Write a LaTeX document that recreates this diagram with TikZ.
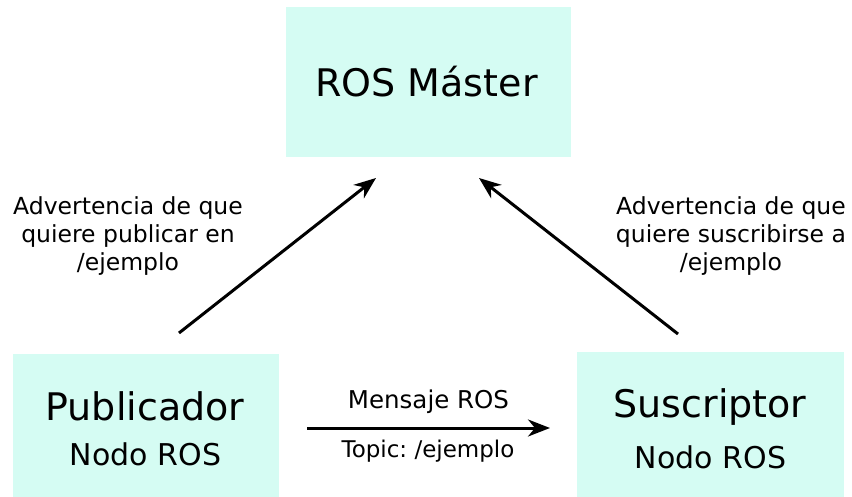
\documentclass[tikz,border=0pt]{standalone}
\usepackage{fontspec}
\setmainfont{DejaVu Sans}
\usetikzlibrary{arrows.meta}
\definecolor{rosbox}{RGB}{213,252,243}
\frenchspacing

\begin{document}
\begin{tikzpicture}[x=1pt, y=-1pt,
		box/.style={fill=rosbox, draw=none, inner sep=0pt},
		big/.style={anchor=base, font=\fontsize{38}{44}\selectfont},
		small/.style={anchor=base, font=\fontsize{30}{36}\selectfont},
		note/.style={anchor=base, align=center, font=\fontsize{23.5}{28}\selectfont},
		msg/.style={anchor=base, font=\fontsize{24.5}{29}\selectfont},
		flow/.style={-{Stealth[length=22pt, width=17pt, inset=7pt]}, line width=3pt}]
		\useasboundingbox (0,0) rectangle (852,497);
	
		% Define Master
		\node[box, minimum width=285pt, minimum height=150pt] (MasterBox) at (428.5,82) {};
		\node[big] (MasterText) at (426.5,97) {ROS Máster};
		
		% Define Publicador
		\node[box, minimum width=266pt, minimum height=143pt] (PubBox) at (146,425.5) {};
		\node[big] (PubText) at (145,420) {Publicador};
		\node[small] (PubNodo) at (145.5,465) {Nodo ROS};
		\node[note] (PubNote) at (128,271) {Advertencia de que\\quiere publicar en\\/ejemplo};
		
		% Define Suscriptor
		\node[box, minimum width=267pt, minimum height=145pt] (SusBox) at (710.5,424.5) {};
		\node[big] (SusText) at (710,417) {Suscriptor};
		\node[small] (SusNodo) at (710.5,468) {Nodo ROS};
		\node[note] (SusNote) at (731,271) {Advertencia de que\\quiere suscribirse a\\/ejemplo};
		
		% Define arrows
		\coordinate (PubOut) at (179,333);
		\coordinate (MasterInL) at (376,178);
		\coordinate (SusOut) at (678,334);
		\coordinate (MasterInR) at (479,178);
		\coordinate (MsgStart) at (307,428);
		\coordinate (MsgEnd) at (550,428);
		
		\draw[flow] (PubOut) -- (MasterInL);
		\draw[flow] (SusOut) -- (MasterInR);
		\draw[flow] (MsgStart) -- (MsgEnd);
		
		\node[msg] (MsgTop) at (428.5,408) {Mensaje ROS};
		\node[msg, font=\fontsize{23}{28}\selectfont] (MsgBottom) at (428,457) {Topic: /ejemplo};
	\end{tikzpicture}
\end{document}
